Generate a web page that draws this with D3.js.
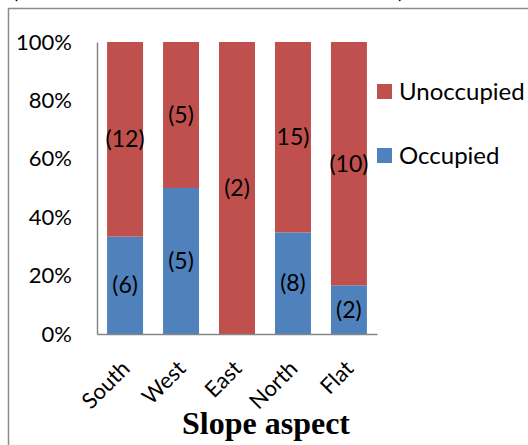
<!DOCTYPE html>
<html>
<head>
<meta charset="utf-8">
<script src="https://cdn.jsdelivr.net/npm/d3@7"></script>
<style>
  body { margin: 0; background: #fff; }
</style>
</head>
<body>
<div id="container"></div>
<script>
const aspects = ['South', 'West', 'East', 'North', 'Flat'];
const occupied = [6, 5, 0, 8, 2];
const unoccupied = [12, 5, 2, 15, 10];
// labels as printed in the picture (North's bracket is missing there)
const occLabels = ['(6)', '(5)', '', '(8)', '(2)'];
const unoccLabels = ['(12)', '(5)', '(2)', '15)', '(10)'];
const yTicks = [0, 0.2, 0.4, 0.6, 0.8, 1];
const seriesNames = ['Unoccupied', 'Occupied'];
const colors = { Occupied: '#4f81bd', Unoccupied: '#c0504d' };

const sans = 'Lato, "Open Sans", sans-serif';
const W = 528, H = 445;
const margin = { top: 42, left: 97, right: 151, bottom: 111 };
const width = W - margin.left - margin.right,
  height = H - margin.top - margin.bottom;

const svg = d3.select('#container').append('svg')
  .attr('width', W)
  .attr('height', H)
  .style('font-family', sans);

// outer frame, runs off the right/bottom edge
svg.append('rect')
  .attr('x', 8.5).attr('y', 8.5)
  .attr('width', 600).attr('height', 600)
  .attr('fill', 'none')
  .attr('stroke', '#8c8c8c')
  .attr('stroke-width', 1.5);

// title, mostly off the top of the picture
svg.append('text')
  .attr('x', 12).attr('y', -2)
  .attr('font-size', 23)
  .attr('fill', '#000')
  .text('(Number of nests indicated in brackets)');

const c = svg.append('g')
  .attr('transform', `translate(${margin.left},${margin.top})`);

const xScale = d3.scaleBand().domain(aspects).range([0, width]).paddingInner(0.357).paddingOuter(0.18);
const yScale = d3.scaleLinear().domain([0, 1]).range([height, 0]);

const rows = aspects.map((a, i) => {
  const total = occupied[i] + unoccupied[i];
  return { aspect: a, Occupied: occupied[i] / total, Unoccupied: unoccupied[i] / total, i };
});
const stack = d3.stack().keys(['Occupied', 'Unoccupied'])(rows);

c.selectAll('g.series')
  .data(stack)
  .join('g')
  .attr('class', 'series')
  .attr('fill', d => colors[d.key])
  .selectAll('rect')
  .data(d => d)
  .join('rect')
  .attr('x', d => xScale(d.data.aspect))
  .attr('y', d => yScale(d[1]))
  .attr('width', xScale.bandwidth())
  .attr('height', d => yScale(d[0]) - yScale(d[1]));

// bracket labels
stack.forEach(s => {
  const labs = s.key === 'Occupied' ? occLabels : unoccLabels;
  c.append('g').selectAll('text')
    .data(s.filter((d, i) => labs[i]))
    .join('text')
    .attr('x', d => xScale(d.data.aspect) + xScale.bandwidth() / 2)
    .attr('y', d => yScale((d[0] + d[1]) / 2))
    .attr('dy', '0.35em')
    .attr('text-anchor', 'middle')
    .attr('font-size', 23)
    .attr('fill', '#000')
    .text(d => labs[d.data.i]);
});

// axes
const yAxis = c.append('g')
  .call(d3.axisLeft(yScale).tickValues(yTicks).tickFormat(d3.format('.0%')).tickSize(0).tickPadding(25));
yAxis.select('.domain').attr('stroke', '#868686').attr('stroke-width', 1.5);
yAxis.selectAll('text').attr('font-size', 22).attr('fill', '#000').attr('font-family', sans);

const xAxis = c.append('g')
  .attr('transform', `translate(0,${height})`)
  .call(d3.axisBottom(xScale).tickSize(0).tickPadding(0));
xAxis.select('.domain').attr('stroke', '#868686').attr('stroke-width', 1.5);
xAxis.selectAll('text')
  .attr('font-size', 22)
  .attr('fill', '#000')
  .attr('font-family', sans)
  .attr('text-anchor', 'end')
  .attr('dy', null)
  .attr('transform', 'translate(6,36) rotate(-45)');

svg.append('text')
  .attr('x', 266).attr('y', 434)
  .attr('text-anchor', 'middle')
  .style('font-family', '"Liberation Serif", "Times New Roman", serif')
  .attr('font-weight', 'bold')
  .attr('font-size', 32)
  .text('Slope aspect');

// legend
const legend = svg.append('g').attr('transform', 'translate(377,84)');
const li = legend.selectAll('g')
  .data(seriesNames)
  .join('g')
  .attr('transform', (d, i) => `translate(0,${i * 64})`);
li.append('rect')
  .attr('width', 15).attr('height', 15)
  .attr('fill', d => colors[d]);
li.append('text')
  .attr('x', 22).attr('y', 8)
  .attr('dy', '0.35em')
  .attr('font-size', 24)
  .text(d => d);
</script>
</body>
</html>
